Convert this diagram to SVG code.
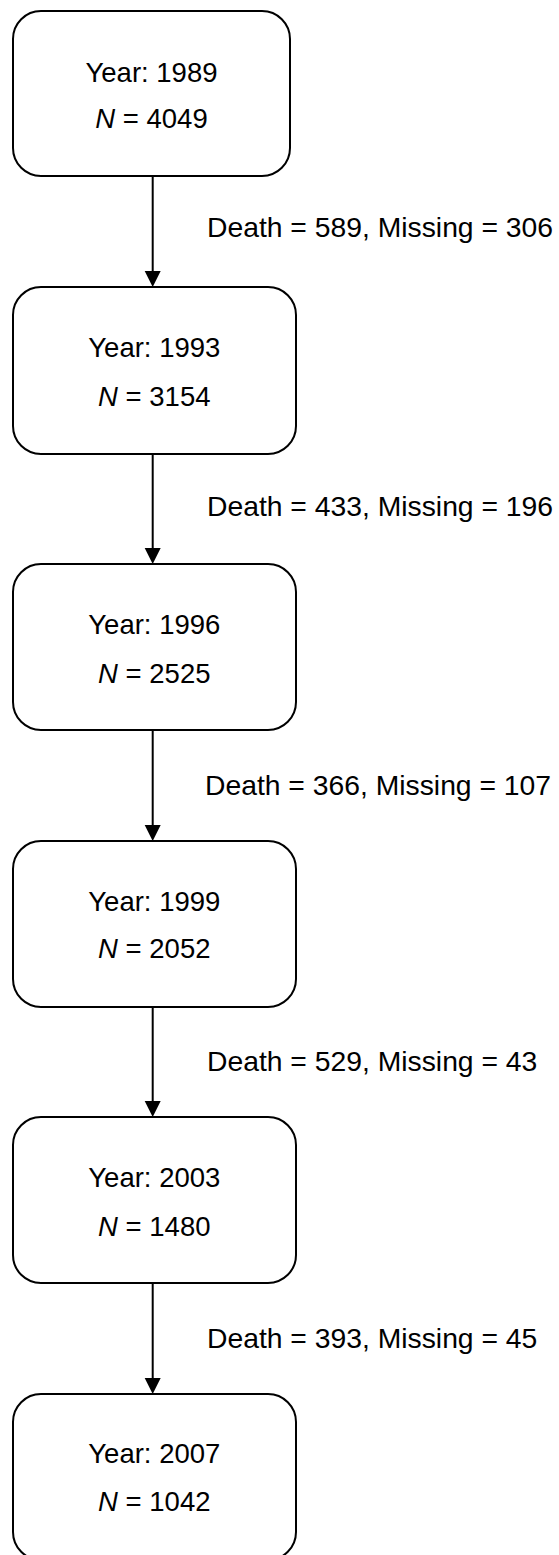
<svg xmlns="http://www.w3.org/2000/svg" width="559" height="1555" viewBox="0 0 559 1555">
  <style>
    .box { fill: #ffffff; stroke: #000000; stroke-width: 2; }
    .t { font-family: "Liberation Sans", Arial, sans-serif; font-size: 27.5px; fill: #000000; text-anchor: middle; }
    .lbl { font-family: "Liberation Sans", Arial, sans-serif; font-size: 28.3px; fill: #000000; }
    .conn { stroke: #000000; stroke-width: 2; fill: none; }
    .head { fill: #000000; }
    .i { font-style: italic; }
  </style>
  <rect width="559" height="1555" fill="#ffffff"/>

  <g id="connectors">
    <line class="conn" x1="152.7" y1="176" x2="152.7" y2="272"/>
    <polygon class="head" points="144.7,271 160.7,271 152.7,287"/>
    <line class="conn" x1="152.7" y1="454" x2="152.7" y2="549"/>
    <polygon class="head" points="144.7,548 160.7,548 152.7,564"/>
    <line class="conn" x1="152.7" y1="730" x2="152.7" y2="826"/>
    <polygon class="head" points="144.7,825 160.7,825 152.7,841"/>
    <line class="conn" x1="152.7" y1="1007" x2="152.7" y2="1102"/>
    <polygon class="head" points="144.7,1101 160.7,1101 152.7,1117"/>
    <line class="conn" x1="152.7" y1="1283" x2="152.7" y2="1379"/>
    <polygon class="head" points="144.7,1378 160.7,1378 152.7,1394"/>
    <text class="lbl" x="207" y="237">Death = 589, Missing = 306</text>
    <text class="lbl" x="207" y="516">Death = 433, Missing = 196</text>
    <text class="lbl" x="205" y="795">Death = 366, Missing = 107</text>
    <text class="lbl" x="207" y="1070.5">Death = 529, Missing = 43</text>
    <text class="lbl" x="207" y="1347.7">Death = 393, Missing = 45</text>
  </g>

  <g id="node1989">
    <rect class="box" x="13" y="11" width="277" height="165" rx="28" ry="28"/>
    <text class="t" x="151.5" y="81.7">Year: 1989</text>
    <text class="t" x="151.5" y="128.3"><tspan class="i">N</tspan> = 4049</text>
  </g>
  <g id="node1993">
    <rect class="box" x="13" y="287" width="283" height="167" rx="28" ry="28"/>
    <text class="t" x="154.3" y="357.3">Year: 1993</text>
    <text class="t" x="154.3" y="406"><tspan class="i">N</tspan> = 3154</text>
  </g>
  <g id="node1996">
    <rect class="box" x="13" y="564" width="283" height="166" rx="28" ry="28"/>
    <text class="t" x="154.3" y="634">Year: 1996</text>
    <text class="t" x="154.3" y="682.7"><tspan class="i">N</tspan> = 2525</text>
  </g>
  <g id="node1999">
    <rect class="box" x="13" y="841" width="283" height="166" rx="28" ry="28"/>
    <text class="t" x="154.3" y="910.7">Year: 1999</text>
    <text class="t" x="154.3" y="958.3"><tspan class="i">N</tspan> = 2052</text>
  </g>
  <g id="node2003">
    <rect class="box" x="13" y="1117" width="283" height="166" rx="28" ry="28"/>
    <text class="t" x="154.3" y="1187.3">Year: 2003</text>
    <text class="t" x="154.3" y="1236"><tspan class="i">N</tspan> = 1480</text>
  </g>
  <g id="node2007">
    <rect class="box" x="13" y="1394" width="283" height="166" rx="28" ry="28"/>
    <text class="t" x="154.3" y="1463.3">Year: 2007</text>
    <text class="t" x="154.3" y="1510.7"><tspan class="i">N</tspan> = 1042</text>
  </g>
</svg>
